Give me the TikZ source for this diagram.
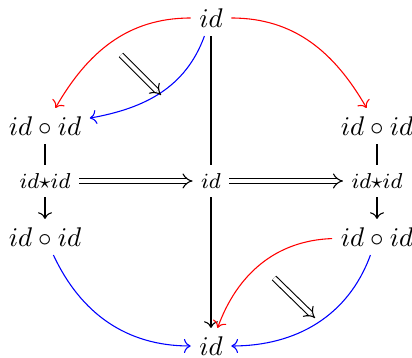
\documentclass[tikz,border=0pt]{standalone}
\usepackage{tikz}
\usetikzlibrary{cd}

\begin{document}
\begin{tikzpicture}[
    x=0.37pt, y=-0.37pt,
    obj/.style={inner sep=3pt},
    mid/.style={font=\footnotesize, inner sep=3pt},
    one/.style={-{cm to}},
    two/.style={double, double equal sign distance, -{cm implies}},
    redarr/.style={red, -{cm to}},
    bluearr/.style={blue, -{cm to}},
  ]
  \useasboundingbox (0,0) rectangle (412,358);

  % --- objects ---
  \node[obj] (top) at (211,18)  {$id$};
  \node[obj] (lu)  at (45,126)  {$id\circ id$};
  \node[obj] (ru)  at (377,126) {$id\circ id$};
  \node[mid] (ls)  at (45,181)  {$id{\star}id$};
  \node[mid] (mc)  at (211,181) {$id$};
  \node[mid] (rs)  at (377,181) {$id{\star}id$};
  \node[obj] (ll)  at (45,237)  {$id\circ id$};
  \node[obj] (rl)  at (377,237) {$id\circ id$};
  \node[obj] (bot) at (211,346) {$id$};

  % 2-cell ends
  \coordinate (ua) at (121,55);
  \coordinate (ub) at (161,95);
  \coordinate (la) at (274,278);
  \coordinate (lb) at (315,318);

  % --- upper half ---
  \draw[redarr] (top.west) to[out=180, in=60] (lu);
  \draw[redarr] (top.east) to[out=0, in=120] (ru);
  \draw[bluearr] (top) to[out=250, in=10] (lu);
  \draw[two] (ua) -- (ub);

  % --- middle row ---
  \draw (lu) -- (ls);
  \draw[one] (ls) -- (ll);
  \draw (ru) -- (rs);
  \draw[one] (rs) -- (rl);
  \draw (top) -- (mc);
  \draw[one] (mc) -- (bot);
  \draw[two] (ls) -- (mc);
  \draw[two] (mc) -- (rs);

  % --- lower half ---
  \draw[bluearr] (ll) to[out=-65, in=180] (bot);
  \draw[redarr] (rl) to[out=182, in=70] (bot);
  \draw[bluearr] (rl) to[out=-110, in=0] (bot);
  \draw[two] (la) -- (lb);

\end{tikzpicture}
\end{document}
